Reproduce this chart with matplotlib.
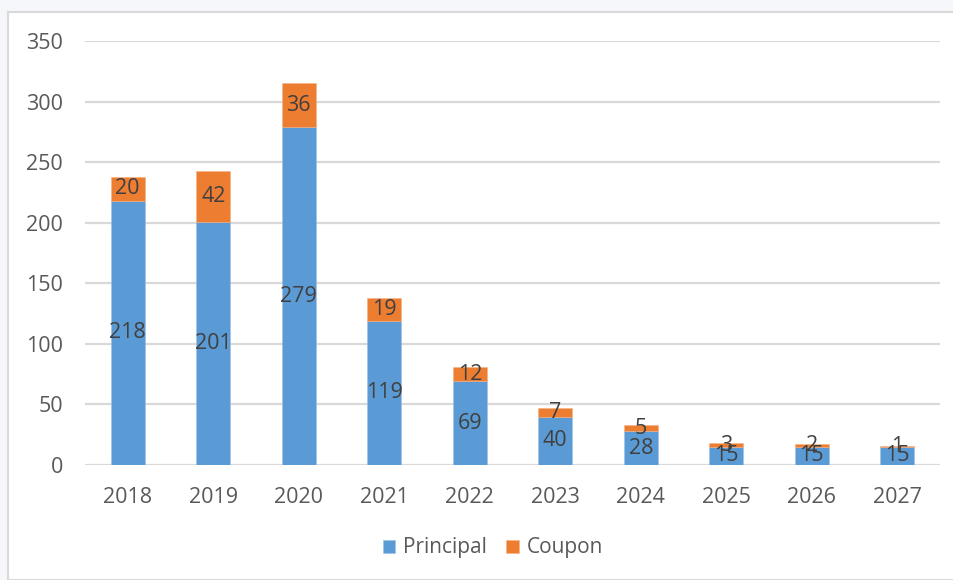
import numpy as np
import matplotlib.pyplot as plt
from matplotlib.patches import Rectangle

years = ['2018', '2019', '2020', '2021', '2022', '2023', '2024', '2025', '2026', '2027']
principal = [218, 201, 279, 119, 69, 40, 28, 15, 15, 15]
coupon = [20, 42, 36, 19, 12, 7, 5, 3, 2, 1]

blue = '#5B9BD5'
orange = '#ED7D31'
text_c = '#595959'
label_c = '#404040'

plt.rcParams['font.family'] = ['Open Sans', 'DejaVu Sans']
fs = 15.5

W, H = 954, 580
fig = plt.figure(figsize=(W / 100, H / 100), dpi=100, facecolor='#F5F7FA')

# chart frame (screenshot border)
fig.patches.append(Rectangle((8 / W, 0), 1, 1 - 12 / H, transform=fig.transFigure,
                             facecolor='white', edgecolor='#D9D9D9', linewidth=1.5, zorder=-10))

ax = fig.add_axes([85 / W, (H - 465) / H, (940 - 85) / W, (465 - 41) / H])
ax.set_facecolor('none')

x = np.arange(len(years))
p_bars = ax.bar(x, principal, width=0.4, color=blue, edgecolor='#9DC3E6', linewidth=0.4,
                label='Principal', zorder=3)
c_bars = ax.bar(x, coupon, width=0.4, bottom=principal, color=orange, edgecolor='#F4B183',
                linewidth=0.4, label='Coupon', zorder=3)

ax.bar_label(p_bars, labels=[str(v) for v in principal], label_type='center',
             fontsize=fs, color=label_c, zorder=4)
ax.bar_label(c_bars, labels=[str(v) for v in coupon], label_type='center',
             fontsize=fs, color=label_c, zorder=4)

ax.set_xlim(-0.5, len(years) - 0.5)
ax.set_ylim(0, 350)
ax.set_yticks(range(0, 351, 50))
ax.set_xticks(x)
ax.set_xticklabels(years)
ax.yaxis.grid(True, color='#D9D9D9', linewidth=1.6, zorder=0)
ax.set_axisbelow(True)
for s in ax.spines.values():
    s.set_visible(False)
ax.tick_params(axis='both', length=0, labelsize=fs, labelcolor=text_c)
ax.tick_params(axis='y', pad=16)
ax.tick_params(axis='x', pad=16)

leg = fig.legend(handles=[p_bars, c_bars], labels=['Principal', 'Coupon'],
                 loc='center', bbox_to_anchor=(493 / W, (H - 548) / H), ncol=2,
                 frameon=False, fontsize=15, handlelength=0.6, handleheight=0.6,
                 handletextpad=0.4, columnspacing=0.9)
for t in leg.get_texts():
    t.set_color(text_c)

fig.savefig('out.png', dpi=100, facecolor=fig.get_facecolor())
